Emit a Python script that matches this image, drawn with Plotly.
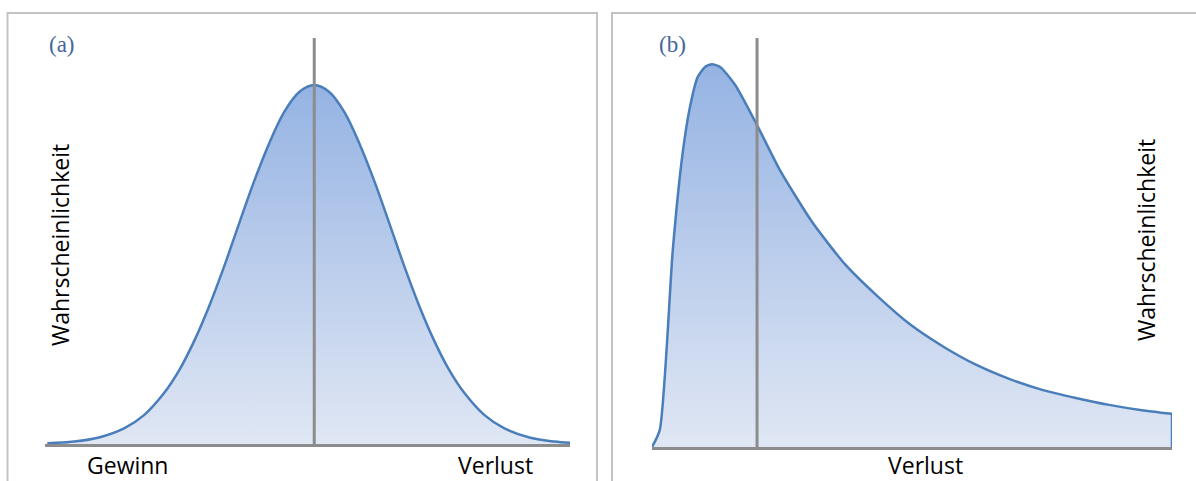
import plotly.graph_objects as go

# ---- data ----
# (a) symmetric distribution: Gewinn <-> Verlust
gauss_x = [-3.56, -3.20, -2.87, -2.53, -2.27, -2.00, -1.80, -1.60, -1.40, -1.20,
           -1.00, -0.80, -0.60, -0.40, -0.20, 0.00, 0.20, 0.40, 0.60, 0.80,
           1.00, 1.20, 1.40, 1.60, 1.80, 2.00, 2.27, 2.53, 2.87, 3.20, 3.41]
gauss_y = [0.002, 0.006, 0.016, 0.039, 0.071, 0.126, 0.182, 0.254, 0.340, 0.438,
           0.544, 0.648, 0.741, 0.818, 0.867, 0.884, 0.867, 0.818, 0.741, 0.648,
           0.544, 0.438, 0.340, 0.254, 0.182, 0.126, 0.071, 0.039, 0.016, 0.006, 0.003]
gauss_mean = 0.0

# (b) skewed loss distribution
loss_x = [0.0, 1.5, 4.0, 5.8, 7.3, 8.8, 10.2, 11.5, 13.1, 16.0, 20.2, 24.6,
          30.8, 37.1, 43.5, 49.8, 56.2, 62.5, 68.8, 75.2, 81.5, 87.9, 94.2, 100.0]
loss_y = [0.0, 0.042, 0.482, 0.709, 0.831, 0.905, 0.929, 0.936, 0.929, 0.885, 0.787, 0.677,
          0.550, 0.447, 0.367, 0.298, 0.244, 0.200, 0.166, 0.139, 0.120, 0.103, 0.090, 0.081]
loss_mark = 20.2

label_a = "(a)"
label_b = "(b)"
ylabel = "Wahrscheinlichkeit"
x_left_a = "Gewinn"
x_right_a = "Verlust"
x_b = "Verlust"

W, H = 1196, 481
LINE = "#4a7ebb"
GRAY = "#8c8c8c"
FILL = dict(type="vertical", colorscale=[[0, "#e0e7f4"], [1, "#95b3e3"]])
FONT = "Open Sans"


def px(x):
    return x / W


def py(y):
    return 1 - y / H


fig = go.Figure()

fig.add_trace(go.Scatter(x=gauss_x, y=gauss_y, mode="lines",
                         line=dict(color=LINE, width=2.5, shape="spline"),
                         fill="tozeroy", fillgradient=FILL,
                         xaxis="x", yaxis="y", showlegend=False))

fig.add_trace(go.Scatter(x=loss_x, y=loss_y, mode="lines",
                         line=dict(color=LINE, width=2.5, shape="spline", smoothing=0.6),
                         fill="tozeroy", fillgradient=FILL,
                         xaxis="x2", yaxis="y2", showlegend=False))
fig.add_trace(go.Scatter(x=[loss_x[-1], loss_x[-1]], y=[loss_y[-1], 0], mode="lines",
                         line=dict(color=LINE, width=2.5),
                         xaxis="x2", yaxis="y2", showlegend=False))

ax_common = dict(showgrid=False, zeroline=False, showticklabels=False, ticks="",
                 fixedrange=True)
fig.update_layout(
    width=W, height=H, margin=dict(l=0, r=0, t=0, b=0),
    paper_bgcolor="white", plot_bgcolor="rgba(0,0,0,0)",
    xaxis=dict(domain=[px(45), px(570)], range=[-3.59, 3.41], anchor="y",
               showline=True, linecolor=GRAY, linewidth=3, **ax_common),
    yaxis=dict(domain=[py(444), py(38)], range=[0, 1], anchor="x",
               showline=False, **ax_common),
    xaxis2=dict(domain=[px(652), px(1172)], range=[0, 100], anchor="y2",
                showline=True, linecolor=GRAY, linewidth=3, **ax_common),
    yaxis2=dict(domain=[py(447), py(38)], range=[0, 1], anchor="x2",
                showline=False, **ax_common),
)

shapes = [
    dict(type="rect", xref="paper", yref="paper", x0=px(7.5), x1=px(597), y0=-0.2, y1=py(13),
         line=dict(color="#c3c3c3", width=2), layer="below"),
    dict(type="rect", xref="paper", yref="paper", x0=px(612), x1=1.05, y0=-0.2, y1=py(13),
         line=dict(color="#c3c3c3", width=2), layer="below"),
    dict(type="line", xref="x", yref="y", x0=gauss_mean, x1=gauss_mean, y0=0, y1=1,
         line=dict(color=GRAY, width=3), layer="above"),
    dict(type="line", xref="x2", yref="y2", x0=loss_mark, x1=loss_mark, y0=0, y1=1,
         line=dict(color=GRAY, width=3), layer="above"),
]
fig.update_layout(shapes=shapes)

tfont = dict(family=FONT, size=23, color="black")
sfont = dict(family="Liberation Serif", size=23, color="#44679c")
ann = [
    dict(text=label_a, x=px(62), y=py(44), font=sfont),
    dict(text=label_b, x=px(672), y=py(44), font=sfont),
    dict(text=ylabel, x=px(60), y=py(245), textangle=-90, font=tfont),
    dict(text=ylabel, x=px(1146), y=py(240), textangle=-90, font=tfont),
    dict(text=x_left_a, x=px(127), y=py(465), font=tfont),
    dict(text=x_right_a, x=px(495), y=py(465), font=tfont),
    dict(text=x_b, x=px(925), y=py(465), font=tfont),
]
for a in ann:
    a.update(xref="paper", yref="paper", showarrow=False, xanchor="center", yanchor="middle")
fig.update_layout(annotations=ann)

fig.write_html(
    "out.html",
    config={"displayModeBar": False},
    post_script="document.body.style.margin='0px';document.body.style.overflow='hidden';",
)
